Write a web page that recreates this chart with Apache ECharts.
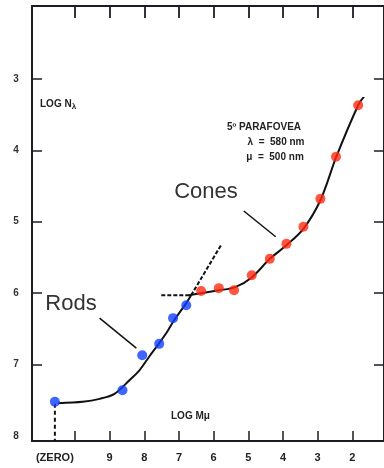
<!DOCTYPE html>
<html><head><meta charset="utf-8">
<script src="https://cdn.jsdelivr.net/npm/echarts@6/dist/echarts.min.js"></script>
<style>html,body{margin:0;padding:0;background:#fff}#c{width:384px;height:468px}</style>
</head><body><div id="c"></div>
<script>
// x: log M (reversed axis), y: log N (inverted axis)
const xTicks = [10, 9, 8, 7, 6, 5, 4, 3, 2];
const xLabelVals = [10.58, 9, 8, 7, 6, 5, 4, 3, 2];
const yTicks = [3, 4, 5, 6, 7];
const yLabelVals = [3, 4, 5, 6, 7, 8];

const rodPoints = [[10.58,7.52],[8.63,7.36],[8.06,6.87],[7.57,6.71],[7.17,6.35],[6.79,6.17]];
const conePoints = [[6.36,5.97],[5.85,5.93],[5.41,5.96],[4.90,5.75],[4.38,5.52],[3.90,5.31],[3.41,5.07],[2.92,4.68],[2.47,4.09],[1.83,3.37]];

const rodCurve = [[10.49,7.54],[9.78,7.52],[9.29,7.48],[8.86,7.41],[8.43,7.22],[8.14,7.08],[7.86,6.89],[7.57,6.70],[7.34,6.54],[7.14,6.38],[6.79,6.14],[6.65,6.03]];
const rodDashed = [[6.65,6.03],[5.79,5.33]];
const coneDashed = [[7.51,6.03],[6.71,6.03]];
const coneCurve = [[6.71,6.03],[6.36,6.00],[5.85,5.96],[5.39,5.92],[4.90,5.78],[4.38,5.52],[3.90,5.33],[3.41,5.10],[2.92,4.70],[2.46,4.09],[1.83,3.37],[1.66,3.25]];
const zeroDashed = [[10.58,7.55],[10.58,8.07]];
const rodPointer = [[9.29,6.35],[8.23,6.77]];
const conePointer = [[5.13,4.85],[4.21,5.21]];

const AX = '#1c1c28';
const chart = echarts.init(document.getElementById('c'), null, {renderer:'canvas'});
const lineS = (data, type, w) => ({type:'line', data, xAxisIndex:0, yAxisIndex:0, symbol:'none', smooth:false,
  lineStyle:{color:'#111', width:w||2, type:type||'solid'}, z:2, silent:true});
const fontT = '"Liberation Sans", Arial, sans-serif';
chart.setOption({
  animation:false,
  grid:{left:32, top:6, width:354, height:435, containLabel:false},
  xAxis:[
    {type:'value', position:'bottom', inverse:true, min:1.085, max:11.24,
     axisLine:{lineStyle:{color:AX, width:2}},
     axisTick:{inside:true, length:10, customValues:xTicks, lineStyle:{color:AX, width:1.5}},
     axisLabel:{customValues:xLabelVals, margin:11, color:'#222', fontSize:11, fontWeight:'bold', fontFamily:fontT,
       formatter:v => v > 10 ? '(ZERO)' : String(v)},
     splitLine:{show:false}},
    {type:'value', position:'top', inverse:true, min:1.085, max:11.24,
     axisLine:{lineStyle:{color:AX, width:2}},
     axisTick:{inside:true, length:12, customValues:xTicks, lineStyle:{color:AX, width:1.8}},
     axisLabel:{show:false}, splitLine:{show:false}}
  ],
  yAxis:[
    {type:'value', position:'left', inverse:true, min:1.98, max:8.07,
     axisLine:{lineStyle:{color:AX, width:2}},
     axisTick:{inside:true, length:10, customValues:yTicks, lineStyle:{color:AX, width:1.5}},
     axisLabel:{customValues:yLabelVals, margin:16, align:'center', color:'#333', fontSize:10, fontWeight:'bold', fontFamily:fontT},
     splitLine:{show:false}},
    {type:'value', position:'right', inverse:true, min:1.98, max:8.07,
     axisLine:{lineStyle:{color:AX, width:2}},
     axisTick:{inside:true, length:10, customValues:yTicks, lineStyle:{color:AX, width:1.5}},
     axisLabel:{show:false}, splitLine:{show:false}}
  ],
  series:[
    Object.assign(lineS(rodCurve), {smooth:0.3}),
    lineS(rodDashed, [4,2], 2),
    lineS(coneDashed, [4,2], 2),
    Object.assign(lineS(coneCurve), {smooth:0.3}),
    lineS(zeroDashed, [4,3], 2),
    lineS(rodPointer, 'solid', 1.5),
    lineS(conePointer, 'solid', 1.5),
    {type:'scatter', data:rodPoints, symbolSize:10, itemStyle:{color:'#1040ff'}, z:5, silent:true},
    {type:'scatter', data:conePoints, symbolSize:10, itemStyle:{color:'#ff2a12'}, z:5, silent:true}
  ],
  graphic:[
    {type:'text', x:71, y:304, style:{text:'Rods', font:'22px '+fontT, fill:'#333', align:'center', verticalAlign:'middle'}},
    {type:'text', x:206, y:192, style:{text:'Cones', font:'22px '+fontT, fill:'#333', align:'center', verticalAlign:'middle'}},
    {type:'text', x:264, y:127, style:{text:'5º PARAFOVEA', font:'bold 10px '+fontT, fill:'#222', align:'center', verticalAlign:'middle'}},
    {type:'text', x:276, y:142, style:{text:'λ  =  580 nm', font:'bold 10px '+fontT, fill:'#222', align:'center', verticalAlign:'middle'}},
    {type:'text', x:275, y:157, style:{text:'μ  =  500 nm', font:'bold 10px '+fontT, fill:'#222', align:'center', verticalAlign:'middle'}},
    {type:'text', x:40, y:104, style:{text:'{a|LOG N}{b|λ}', verticalAlign:'middle',
      rich:{a:{font:'bold 10px '+fontT, fill:'#222'}, b:{font:'bold 8px '+fontT, fill:'#222', padding:[6,0,0,0]}}}},
    {type:'text', x:171, y:416, style:{text:'LOG Mμ', font:'bold 10px '+fontT, fill:'#222', verticalAlign:'middle'}}
  ]
});
</script></body></html>
